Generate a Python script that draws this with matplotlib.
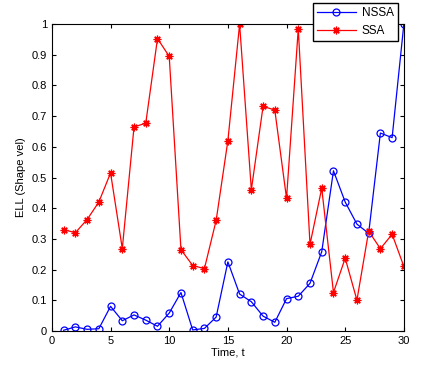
import numpy as np
import matplotlib
matplotlib.use('Agg')
import matplotlib.pyplot as plt

plt.rcParams['font.family'] = ['Liberation Sans', 'DejaVu Sans']

# ── Data ──────────────────────────────────────────────────────
t = list(range(1, 31))
nssa = [0.002, 0.013, 0.005, 0.007, 0.080, 0.033, 0.052, 0.035, 0.015, 0.058,
        0.125, 0.003, 0.008, 0.045, 0.225, 0.120, 0.095, 0.048, 0.028, 0.105,
        0.113, 0.155, 0.258, 0.522, 0.420, 0.348, 0.318, 0.645, 0.630, 1.000]
ssa = [0.330, 0.320, 0.363, 0.420, 0.515, 0.268, 0.665, 0.677, 0.953, 0.895,
       0.265, 0.213, 0.203, 0.360, 0.620, 1.000, 0.460, 0.732, 0.720, 0.432,
       0.985, 0.282, 0.465, 0.125, 0.237, 0.100, 0.325, 0.268, 0.315, 0.210]
xticks = [0, 5, 10, 15, 20, 25, 30]
yticks = [0, 0.1, 0.2, 0.3, 0.4, 0.5, 0.6, 0.7, 0.8, 0.9, 1]

# ── Plot ──────────────────────────────────────────────────────
fig = plt.figure(figsize=(4.22, 3.66), dpi=100)
ax = fig.add_axes([0.123, 0.096, 0.834, 0.838])

ax.plot(t, nssa, '-o', color='blue', lw=0.9, ms=5, mfc='none', mew=0.9, label='NSSA')
ax.plot(t, ssa, '-', marker=(8, 2, 0), color='red', lw=0.9, ms=5.5, mew=0.9, label='SSA')

ax.set_xlim(0, 30)
ax.set_ylim(0, 1)
ax.set_xticks(xticks)
ax.set_yticks(yticks)
ax.set_yticklabels(['0', '0.1', '0.2', '0.3', '0.4', '0.5', '0.6', '0.7', '0.8', '0.9', '1'])
ax.tick_params(direction='in', labelsize=8, length=3, top=True, right=True)
for s in ax.spines.values():
    s.set_linewidth(0.8)

ax.set_xlabel('Time, t', fontsize=8, labelpad=1)
ax.set_ylabel('ELL (Shape vel)', fontsize=8, labelpad=4)

leg = ax.legend(loc='upper right', bbox_to_anchor=(0.943, 0.992),
                bbox_transform=fig.transFigure, fontsize=8.5, fancybox=False,
                framealpha=1, edgecolor='black', handlelength=3.3,
                borderpad=0.35, labelspacing=0.5, borderaxespad=0,
                handletextpad=0.5)
leg.get_frame().set_linewidth(1.0)

fig.savefig('out.png', dpi=100)
